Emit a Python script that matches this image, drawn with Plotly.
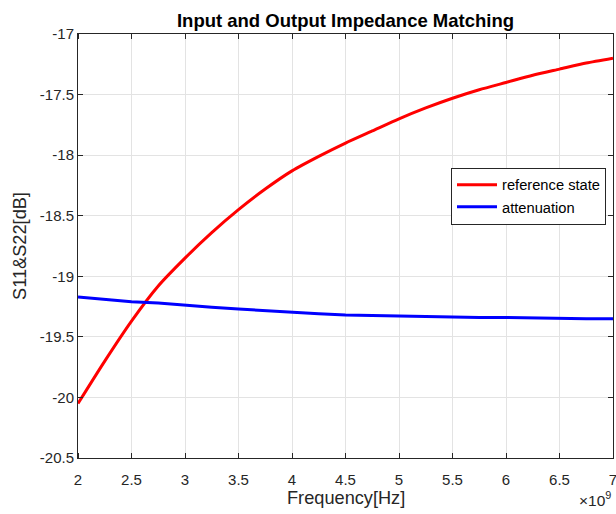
import plotly.graph_objects as go

freq_ghz = [2.0, 2.25, 2.5, 2.75, 3.0, 3.25, 3.5, 3.75, 4.0, 4.25, 4.5,
            4.75, 5.0, 5.25, 5.5, 5.75, 6.0, 6.25, 6.5, 6.75, 7.0]
reference_state = [-20.05, -19.70, -19.37, -19.08, -18.85, -18.64, -18.45, -18.28,
                   -18.13, -18.01, -17.90, -17.80, -17.70, -17.61, -17.53, -17.46,
                   -17.40, -17.34, -17.29, -17.24, -17.20]
attenuation = [-19.17, -19.19, -19.21, -19.22, -19.24, -19.255, -19.27, -19.285,
               -19.30, -19.31, -19.32, -19.325, -19.33, -19.333, -19.337, -19.34,
               -19.34, -19.345, -19.35, -19.35, -19.35]
x_tick_vals = [2, 2.5, 3, 3.5, 4, 4.5, 5, 5.5, 6, 6.5, 7]
x_tick_text = ["2", "2.5", "3", "3.5", "4", "4.5", "5", "5.5", "6", "6.5", "7"]
y_tick_vals = [-17, -17.5, -18, -18.5, -19, -19.5, -20, -20.5]
y_tick_text = ["-17", "-17.5", "-18", "-18.5", "-19", "-19.5", "-20", "-20.5"]

freq_hz = [f * 1e9 for f in freq_ghz]
x_tick_hz = [v * 1e9 for v in x_tick_vals]

fig = go.Figure()
fig.add_trace(go.Scatter(x=freq_hz, y=reference_state, mode="lines",
                         name="reference state",
                         line=dict(color="#ff0000", width=3, shape="spline", smoothing=0.6)))
fig.add_trace(go.Scatter(x=freq_hz, y=attenuation, mode="lines",
                         name="attenuation",
                         line=dict(color="#0000ff", width=3)))

axis_color = "#262626"
grid_color = "#e3e3e3"
font_family = "Liberation Sans, Arial, Helvetica, sans-serif"

fig.update_layout(
    width=616, height=514,
    margin=dict(l=78, r=3, t=34, b=56, autoexpand=False),
    paper_bgcolor="white", plot_bgcolor="white",
    font=dict(family=font_family, color=axis_color, size=15),
    title=dict(text="<b>Input and Output Impedance Matching</b>",
               x=(78 + 613) / 2 / 616, xanchor="center",
               xref="container", yref="container",
               y=1 - 21 / 514, yanchor="middle", automargin=False,
               font=dict(size=18.5, color="#000000")),
    showlegend=True,
    legend=dict(x=(451 - 78) / 535, y=(458 - 168) / 423.5, xanchor="left", yanchor="top",
                bgcolor="white", bordercolor="#262626", borderwidth=1,
                font=dict(size=14.7, color="#000000"),
                tracegroupgap=0, itemwidth=40),
)

fig.update_xaxes(
    range=[2e9, 7e9], automargin=False,
    tickmode="array", tickvals=x_tick_hz, ticktext=x_tick_text,
    ticks="outside", ticklen=8, tickcolor="rgba(0,0,0,0)",
    ticklabeloverflow="allow",
    minor=dict(tickmode="array", tickvals=x_tick_hz, ticks="inside",
               ticklen=5, tickcolor=axis_color, showgrid=False),
    showgrid=True, gridcolor=grid_color, gridwidth=1,
    showline=True, linecolor=axis_color, linewidth=1, mirror="ticks",
    zeroline=False,
    tickfont=dict(size=15),
)
fig.update_yaxes(
    range=[-20.5, -17], automargin=False,
    tickmode="array", tickvals=y_tick_vals, ticktext=y_tick_text,
    ticks="inside", ticklen=5, tickcolor=axis_color,
    showgrid=True, gridcolor=grid_color, gridwidth=1,
    showline=True, linecolor=axis_color, linewidth=1, mirror="ticks",
    zeroline=False,
    title=dict(text="S11&S22[dB]", font=dict(size=18.2, color=axis_color), standoff=8),
    tickfont=dict(size=15),
)

fig.add_annotation(text="Frequency[Hz]", xref="paper", yref="paper",
                   x=0.5, y=0, xanchor="center", yanchor="middle", yshift=-40,
                   showarrow=False, font=dict(size=18.2, color=axis_color))
fig.add_annotation(text="×10<sup>9</sup>", xref="paper", yref="paper",
                   x=1.0, y=0, xanchor="right", yanchor="bottom", yshift=-53,
                   showarrow=False, font=dict(size=15.5, color=axis_color))

fig.write_html("out.html", config={"displayModeBar": False},
               post_script="document.body.style.margin='0px';")
